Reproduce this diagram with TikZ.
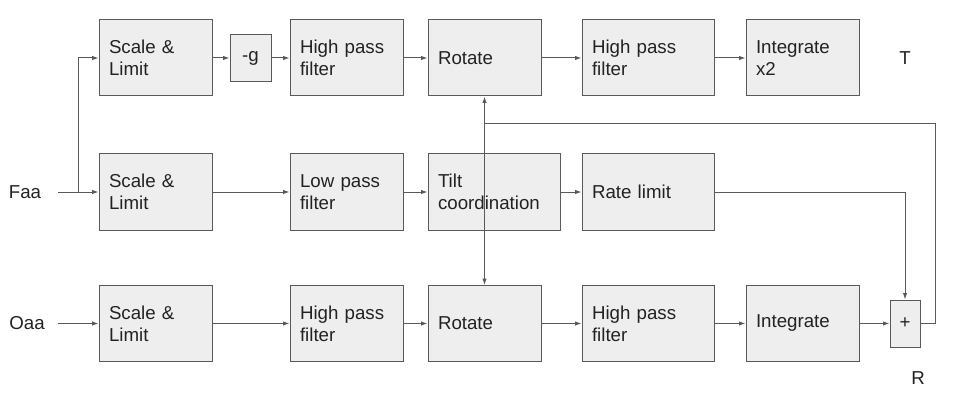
\documentclass[tikz,border=0pt]{standalone}
\usepackage{fontspec}
\setmainfont{Liberation Sans}
\usepackage{xcolor}
\usetikzlibrary{arrows.meta}
\definecolor{boxfill}{HTML}{EEEEEE}
\definecolor{boxline}{HTML}{595959}
\definecolor{textcol}{HTML}{222222}
\tikzset{every picture/.style={line width=0.7pt}}
\tikzset{
  block/.style={draw=boxline, fill=boxfill, text=textcol, minimum height=1.9cm, inner xsep=0.25cm,
    text width=2.325cm, align=left, font=\fontsize{13.3}{15.6}\selectfont},
  wideblock/.style={block, text width=2.8cm},
  smallblock/.style={draw=boxline, fill=boxfill, text=textcol, minimum width=1.025cm, minimum height=1.175cm,
    inner sep=0pt, font=\fontsize{13.3}{15.6}\selectfont},
  sumblock/.style={smallblock, minimum width=0.75cm},
  plainlabel/.style={text=textcol, font=\fontsize{13.3}{15.6}\selectfont},
  sig/.style={draw=boxline, -{Latex[length=1.6mm,width=1.1mm]}},
  wire/.style={draw=boxline},
}
\begin{document}
\begin{tikzpicture}
\useasboundingbox (0,0) rectangle (24,10.375);
% top row
\node[block] (sl1) at (3.8875,8.925) {Scale \&\\Limit};
\node[smallblock] (neg) at (6.2625,8.925) {-g};
\node[block] (hp1) at (8.6625,8.925) {High pass\\filter};
\node[block] (rot1) at (12.1125,8.925) {Rotate};
\node[wideblock] (hp2) at (16.2,8.925) {High pass\\filter};
\node[block] (int1) at (20.0625,8.925) {Integrate\\x2};
\node[plainlabel] (T) at (22.625,8.925) {T};
%
% middle row
\node[plainlabel] (faa) at (0.625,5.575) {Faa};
\coordinate (faain) at (1.45,5.575);
\coordinate (split) at (1.95,5.575);
\node[block] (sl2) at (3.8875,5.575) {Scale \&\\Limit};
\node[block] (lp) at (8.6625,5.575) {Low pass\\filter};
\node[wideblock] (tilt) at (12.35,5.575) {Tilt\\coordination};
\node[wideblock] (rate) at (16.2,5.575) {Rate limit};
%
% bottom row
\node[plainlabel] (oaa) at (0.675,2.2875) {Oaa};
\coordinate (oaain) at (1.45,2.2875);
\node[block] (sl3) at (3.8875,2.2875) {Scale \&\\Limit};
\node[block] (hp3) at (8.6625,2.2875) {High pass\\filter};
\node[block] (rot2) at (12.1125,2.2875) {Rotate};
\node[wideblock] (hp4) at (16.2,2.2875) {High pass\\filter};
\node[block] (int2) at (20.0625,2.2875) {Integrate};
\node[sumblock] (sum) at (22.625,2.2875) {+};
\node[plainlabel] (R) at (22.95,0.925) {R};
\coordinate (fbturn) at (23.375,7.275);
\coordinate (fbjoin) at (12.1125,7.275);
%
% connectors
\draw[sig] (faain) -- (sl2);
\draw[sig] (split) |- (sl1.west);
\draw[sig] (sl1) -- (neg);
\draw[sig] (neg) -- (hp1);
\draw[sig] (hp1) -- (rot1);
\draw[sig] (rot1) -- (hp2);
\draw[sig] (hp2) -- (int1);
%
\draw[sig] (sl2) -- (lp);
\draw[sig] (lp) -- (tilt.west);
\draw[sig] (tilt.east) -- (rate.west);
\draw[sig] (rate.east) -| (sum.north);
%
\draw[sig] (oaain) -- (sl3);
\draw[sig] (sl3) -- (hp3);
\draw[sig] (hp3) -- (rot2);
\draw[sig] (rot2) -- (hp4);
\draw[sig] (hp4) -- (int2);
\draw[sig] (int2) -- (sum);
%
\draw[sig, {Latex[length=1.6mm,width=1.1mm]}-{Latex[length=1.6mm,width=1.1mm]}] (rot1.south) -- (rot2.north);
\draw[wire] (sum.east) -| (fbturn) -- (fbjoin);
\end{tikzpicture}
\end{document}
